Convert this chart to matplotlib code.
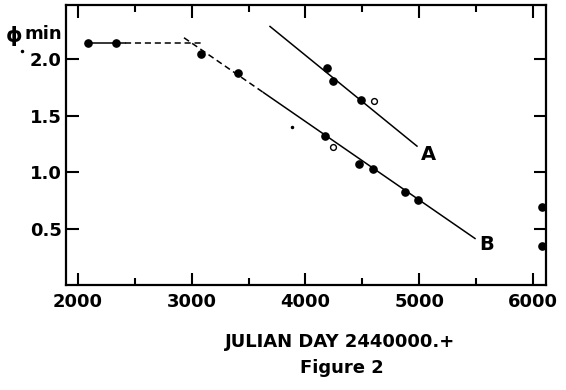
"""
Figure 2: phi min versus Julian Day, two fitted declines (A and B).
Saves: out.png
"""

import matplotlib.pyplot as plt
from matplotlib.ticker import MultipleLocator

# ─── Data ────────────────────────────────────────────────────────────────────
plateau_x = [2088, 2334]
plateau_y = [2.14, 2.14]

b_x = [3081, 3407, 4171, 4470, 4593, 4875, 4989]
b_y = [2.05, 1.88, 1.32, 1.07, 1.03, 0.82, 0.75]
b_open_x = [4241]
b_open_y = [1.22]

a_x = [4189, 4242, 4488]
a_y = [1.92, 1.805, 1.64]
a_open_x = [4602]
a_open_y = [1.63]

late_x = [6079, 6079]
late_y = [0.69, 0.345]

stray_x = [3880, 1508]
stray_y = [1.40, 2.07]

# fitted lines (end points)
flat_solid_x = [2088, 2413]
flat_dash_x = [2413, 3108]
flat_y = 2.14
fit_b_dash_x = [2932, 3630]
fit_b_dash_y = [2.19, 1.705]
fit_b_x = [3630, 5490]
fit_b_y = [1.705, 0.412]
fit_a_x = [3688, 4980]
fit_a_y = [2.29, 1.23]

xticks = [2000, 3000, 4000, 5000, 6000]
yticks = [0.5, 1.0, 1.5, 2.0]

FONT = "DejaVu Sans"
plt.rcParams["font.family"] = FONT

fig = plt.figure(figsize=(5.66, 3.90), dpi=100)
ax = fig.add_axes([66 / 566, 1 - 285 / 390, 480 / 566, 280 / 390])

lk = dict(color="black", linewidth=1.1, zorder=2)
ax.plot(flat_solid_x, [flat_y, flat_y], **lk)
ax.plot(flat_dash_x, [flat_y, flat_y], linestyle=(0, (4, 2.5)), **lk)
ax.plot(fit_b_dash_x, fit_b_dash_y, linestyle=(0, (4, 2.5)), **lk)
ax.plot(fit_b_x, fit_b_y, **lk)
ax.plot(fit_a_x, fit_a_y, **lk)

filled = dict(marker="o", linestyle="none", color="black", markersize=5.2, zorder=3)
ax.plot(plateau_x, plateau_y, **filled)
ax.plot(b_x, b_y, **filled)
ax.plot(a_x, a_y, **filled)
ax.plot(late_x, late_y, **filled)
ax.plot(stray_x, stray_y, marker="o", linestyle="none", color="black",
        markersize=1.5, clip_on=False)

hollow = dict(marker="o", linestyle="none", markerfacecolor="white",
              markeredgecolor="black", markeredgewidth=1.0, markersize=4.2, zorder=3)
ax.plot(b_open_x, b_open_y, **hollow)
ax.plot(a_open_x, a_open_y, **hollow)

ax.text(5085, 1.16, "A", fontsize=14, fontweight="bold", ha="center", va="center")
ax.text(5596, 0.36, "B", fontsize=14, fontweight="bold", ha="center", va="center")

ax.set_xlim(1895, 6114)
ax.set_ylim(0, 2.48)
ax.set_xticks(xticks)
ax.set_xticklabels([str(t) for t in xticks])
ax.set_yticks(yticks)
ax.set_yticklabels([f"{t:.1f}" for t in yticks])
ax.xaxis.set_minor_locator(MultipleLocator(500))

ax.tick_params(axis="both", which="major", direction="in", length=9, width=1.5,
               top=True, right=True, labelsize=13, pad=6)
ax.tick_params(axis="x", which="minor", direction="in", length=5, width=1.5,
               top=True, bottom=True)
ax.tick_params(axis="y", which="major", pad=3)
for lab in ax.get_xticklabels() + ax.get_yticklabels():
    lab.set_fontweight("bold")

for s in ax.spines.values():
    s.set_linewidth(1.6)

# y label: slightly larger phi followed by "min"
fig.text(6 / 566, 1 - 36 / 390, "\u03d5", fontsize=15, fontweight="bold",
         ha="left", va="center")
fig.text(25 / 566, 1 - 34 / 390, "min", fontsize=13, fontweight="bold",
         ha="left", va="center")
fig.text(340 / 566, 1 - 342 / 390, "JULIAN DAY 2440000.+", fontsize=13,
         fontweight="bold", ha="center", va="center")
fig.text(342 / 566, 1 - 368 / 390, "Figure 2", fontsize=13,
         fontweight="bold", ha="center", va="center")

fig.savefig("out.png", dpi=100, facecolor="white")
plt.close(fig)
